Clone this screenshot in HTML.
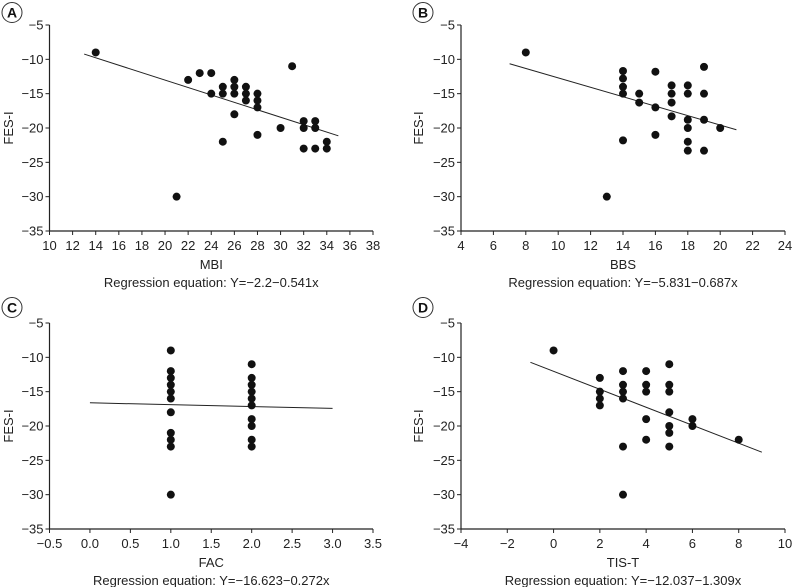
<!DOCTYPE html>
<html><head><meta charset="utf-8"><style>
body{margin:0;background:#fff}
svg{display:block;font-family:"Liberation Sans",sans-serif}
</style></head><body>
<svg id="chart" width="792" height="587" viewBox="0 0 792 587"></svg>
<script>
const aX=[14,21,22,23,24,24,25,25,25,26,26,26,26,27,27,27,28,28,28,28,30,31,32,32,32,33,33,33,34,34];
const aY=[-9,-30,-13,-12,-12,-15,-14,-15,-22,-13,-14,-15,-18,-14,-15,-16,-15,-16,-17,-21,-20,-11,-19,-20,-23,-19,-20,-23,-22,-23];
const bX=[8,13,14,14,14,14,14,15,15,16,16,16,17,17,17,17,18,18,18,18,18,18,19,19,19,19,20];
const bY=[-9,-30,-11.7,-12.8,-14,-15,-21.8,-15,-16.3,-11.8,-17,-21,-13.8,-15,-16.3,-18.3,-13.8,-15,-18.8,-20,-22,-23.3,-11.1,-15,-18.8,-23.3,-20];
const cX=[1,1,1,1,1,1,1,1,1,1,1,2,2,2,2,2,2,2,2,2,2];
const cY=[-9,-12,-13,-14,-15,-16,-18,-21,-22,-23,-30,-11,-13,-14,-15,-16,-17,-19,-20,-22,-23];
const dX=[0,2,2,2,2,3,3,3,3,3,3,4,4,4,4,4,5,5,5,5,5,5,5,6,6,8];
const dY=[-9,-13,-15,-16,-17,-12,-14,-15,-16,-23,-30,-12,-14,-15,-19,-22,-11,-14,-15,-18,-20,-21,-23,-19,-20,-22];
const yTicks=[-5,-10,-15,-20,-25,-30,-35];
const aTicks=[10,12,14,16,18,20,22,24,26,28,30,32,34,36,38];
const bTicks=[4,6,8,10,12,14,16,18,20,22,24];
const cTicks=[-0.5,0.0,0.5,1.0,1.5,2.0,2.5,3.0,3.5];
const dTicks=[-4,-2,0,2,4,6,8,10];
const intercepts=[-2.2,-5.831,-16.623,-12.037];
const slopes=[-0.541,-0.687,-0.272,-1.309];
const lineRanges=[[13,35],[7,21],[0,3],[-1,9]];

const NS="http://www.w3.org/2000/svg";
const svg=document.getElementById('chart');
function mk(tag,attrs,parent,text){const e=document.createElementNS(NS,tag);for(const k in attrs)e.setAttribute(k,attrs[k]);if(text!==undefined)e.textContent=text;(parent||svg).appendChild(e);return e;}

const panels=[
 {id:'a',L:'A',x0:49.5,x1:373,top:25,bot:231,ox:0,oy:0,xt:aTicks,xs:aX,ys:aY,xl:'MBI',dec:0,ytx:8},
 {id:'b',L:'B',x0:461,x1:785,top:25,bot:231,ox:396,oy:0,xt:bTicks,xs:bX,ys:bY,xl:'BBS',dec:0,ytx:418},
 {id:'c',L:'C',x0:49.5,x1:373,top:323,bot:529,ox:0,oy:295,xt:cTicks,xs:cX,ys:cY,xl:'FAC',dec:1,ytx:8},
 {id:'d',L:'D',x0:461,x1:785,top:323,bot:529,ox:396,oy:295,xt:dTicks,xs:dX,ys:dY,xl:'TIS-T',dec:0,ytx:418}
];
panels.forEach((p,i)=>{
 const g=mk('g',{});
 
 
 const xmin=p.xt[0],xmax=p.xt[p.xt.length-1];
 const sx=v=>p.x0+(v-xmin)/(xmax-xmin)*(p.x1-p.x0);
 const sy=v=>p.top+(v-(-5))/(-35-(-5))*(p.bot-p.top);
 // badge
 const bx=p.ox+(p.id==='a'||p.id==='c'?12:27), by=p.oy+12.5;
 const badge=mk('g',{},g);
 
 
 mk('circle',{cx:bx,cy:by,r:10,fill:'#fff',stroke:'#333','stroke-width':1},badge);
 mk('text',{x:bx,y:by+5,'text-anchor':'middle','font-size':14,'font-weight':'bold',fill:'#111'},badge,p.L);
 // axes
 const ax=mk('path',{d:`M${p.x0},${p.top}V${p.bot}H${p.x1}`,stroke:'#222','stroke-width':1.2,fill:'none'},g);
 
 
 yTicks.forEach(t=>{
  const y=sy(t);
  mk('line',{x1:p.x0-4,x2:p.x0,y1:y,y2:y,stroke:'#222'},g);
  const tl=mk('text',{x:p.x0-6,y:y+4.5,'text-anchor':'end','font-size':13,fill:'#222'},g,t<0?'\u2212'+Math.abs(t):t);
  
  
 });
 p.xt.forEach(t=>{
  const x=sx(t);
  mk('line',{x1:x,x2:x,y1:p.bot,y2:p.bot+4,stroke:'#222'},g);
  const s=(t<0?'\u2212':'')+Math.abs(t).toFixed(p.dec);
  const tl=mk('text',{x:x,y:p.bot+19,'text-anchor':'middle','font-size':13,fill:'#222'},g,s);
  
  
 });
 const cy=(p.top+p.bot)/2;
 const yt=mk('text',{x:p.ytx+5,y:cy,'text-anchor':'middle','font-size':13,fill:'#222',transform:`rotate(-90 ${p.ytx+5} ${cy})`},g,'FES-I');
 
 
 const xt=mk('text',{x:(p.x0+p.x1)/2,y:p.bot+38,'text-anchor':'middle','font-size':13,fill:'#222'},g,p.xl);
 
 
 const fmt=v=>'\u2212'+Math.abs(v);
 const eq=mk('text',{x:(p.x0+p.x1)/2,y:p.bot+56,'text-anchor':'middle','font-size':13,fill:'#222'},g,'Regression equation: Y='+fmt(intercepts[i])+fmt(slopes[i])+'x');
 
 
 const r=lineRanges[i];
 const ln=mk('line',{x1:sx(r[0]),y1:sy(intercepts[i]+slopes[i]*r[0]),x2:sx(r[1]),y2:sy(intercepts[i]+slopes[i]*r[1]),stroke:'#222','stroke-width':1},g);
 
 
 p.xs.forEach((v,j)=>{
  const c=mk('circle',{cx:sx(v),cy:sy(p.ys[j]),r:4,fill:'#111'},g);
  
  
 });
});
</script>
</body></html>
